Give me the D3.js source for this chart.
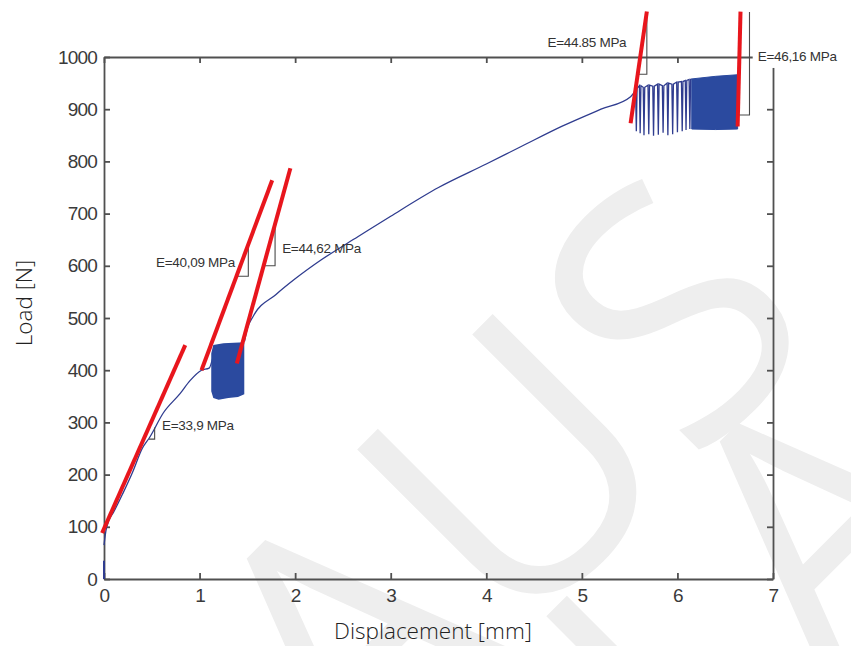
<!DOCTYPE html>
<html>
<head>
<meta charset="utf-8">
<script src="https://cdn.jsdelivr.net/npm/d3@7/dist/d3.min.js"></script>
<style>
    body { margin: 0; background: #fff; }
    .tick text { font-family: "Liberation Sans", Arial, sans-serif; font-size: 19px; fill: #3a3a3a; letter-spacing: -0.8px; }
    .axis path, .axis line { stroke: #505050; stroke-width: 1.8; }
    .ann { font-family: "Liberation Sans", Arial, sans-serif; font-size: 13.5px; fill: #333; letter-spacing: -0.3px; }
    .title { font-family: "Open Sans", "Noto Sans", sans-serif; font-size: 22.5px; font-weight: 300; fill: #222; }
</style>
</head>
<body>
<div id="chart"></div>
<script>
// 画布尺寸
const width = 851;
const height = 646;

// 数据
const xTicks = [0, 1, 2, 3, 4, 5, 6, 7];
const yTicks = [0, 100, 200, 300, 400, 500, 600, 700, 800, 900, 1000];

// 起始的竖线
const startSegment = [[0, 0], [0, 35]];

// 第一段加载曲线
const curveA = [[0, 65], [0.02, 92], [0.05, 112], [0.1, 128], [0.2, 165], [0.3, 205], [0.4, 250],
    [0.48, 272], [0.62, 318], [0.8, 356], [0.9, 380], [1.02, 400], [1.1, 404], [1.14, 425]];

// 第一组循环（包络）
const block1Upper = [[1.13, 432], [1.15, 447], [1.25, 450], [1.46, 452]];
const block1Lower = [[1.13, 360], [1.15, 348], [1.2, 345], [1.3, 348], [1.4, 350], [1.46, 355]];

// 第二段加载曲线
const curveB = [[1.47, 455], [1.5, 480], [1.56, 503], [1.8, 545], [2.0, 575], [2.27, 611], [2.66, 656],
    [3.0, 695], [3.5, 750], [4.0, 795], [4.36, 828], [4.8, 868], [5.2, 900], [5.51, 924], [5.56, 935]];

// 第二组循环：单独的尖峰
const spikeX   = [5.57, 5.61, 5.65, 5.70, 5.75, 5.80, 5.85, 5.90, 5.95, 6.00, 6.05, 6.09, 6.13];
const spikeTop = [940, 945, 942, 946, 944, 948, 945, 950, 948, 952, 953, 955, 957];
const spikeMin = [858, 854, 850, 852, 849, 851, 855, 850, 852, 856, 858, 860, 862];

// 第二组循环：密集部分
const block2Upper = [[6.15, 958], [6.4, 963], [6.63, 966]];
const block2Lower = [[6.15, 862], [6.4, 861], [6.63, 862]];

// 红色切线
const redLines = [
    [[-0.02, 88], [0.85, 448]],
    [[1.02, 400], [1.76, 764]],
    [[1.39, 413], [1.95, 787]],
    [[5.51, 873], [5.68, 1087]],
    [[6.63, 867], [6.66, 1087]]
];

// 斜率三角
const brackets = [
    [[0.47, 268], [0.53, 268], [0.53, 290]],
    [[1.39, 580], [1.51, 580], [1.51, 636]],
    [[1.68, 600], [1.79, 600], [1.79, 674]],
    [[5.59, 967], [5.68, 967], [5.68, 1086]],
    [[6.64, 889], [6.754, 889], [6.754, 1086]]
];

// 标注
const labels = [
    {text: "E=33,9 MPa", x: 0.607, y: 295, anchor: "start"},
    {text: "E=40,09 MPa", x: 1.37, y: 607, anchor: "end"},
    {text: "E=44,62 MPa", x: 1.864, y: 634, anchor: "start"},
    {text: "E=44.85 MPa", x: 4.64, y: 1029, anchor: "start"},
    {text: "E=46,16 MPa", x: 6.84, y: 1002, anchor: "start", box: true}
];

var svg = d3.select("#chart").append("svg")
    .attr("width", width).attr("height", height);

// 水印
var wm = svg.append("g").attr("fill", "#eeeeee")
    .style("font-family", "'Open Sans', sans-serif").style("font-size", "350px");
wm.append("text").attr("transform", "translate(355,805) rotate(-45)").text("AUS");
wm.append("text").attr("transform", "translate(261,1255) rotate(-45)").text("VERLAG");

var x = d3.scaleLinear().domain([0, 7]).range([104, 773]);
var y = d3.scaleLinear().domain([0, 1000]).range([579, 57]);

// 坐标轴（MATLAB 风格，刻度朝内）
svg.append("g").attr("class", "axis")
    .attr("transform", "translate(0," + y(0) + ")")
    .call(d3.axisBottom(x).tickValues(xTicks).tickFormat(d3.format("d"))
        .tickSizeInner(-6).tickSizeOuter(0).tickPadding(10));
svg.append("g").attr("class", "axis")
    .attr("transform", "translate(" + x(0) + ",0)")
    .call(d3.axisLeft(y).tickValues(yTicks).tickFormat(d3.format("d"))
        .tickSizeInner(-6).tickSizeOuter(0).tickPadding(7));
svg.append("g").attr("class", "axis")
    .attr("transform", "translate(0," + y(1000) + ")")
    .call(d3.axisTop(x).tickValues(xTicks).tickSizeInner(-6).tickSizeOuter(0).tickFormat(""));
svg.append("g").attr("class", "axis")
    .attr("transform", "translate(" + x(7) + ",0)")
    .call(d3.axisRight(y).tickValues(yTicks).tickSizeInner(-6).tickSizeOuter(0).tickFormat(""));

var line = d3.line().x(d => x(d[0])).y(d => y(d[1]));
var smooth = d3.line().x(d => x(d[0])).y(d => y(d[1])).curve(d3.curveMonotoneX);

var blue = "#2f3c8f";
var blueFill = "#2b4a9f";

// 实验曲线
var g_data = svg.append("g").attr("id", "data");

g_data.append("path").attr("d", line(startSegment))
    .attr("fill", "none").attr("stroke", blue).attr("stroke-width", 2);

g_data.append("path").attr("d", smooth(curveA))
    .attr("fill", "none").attr("stroke", blue).attr("stroke-width", 1.3);

g_data.append("path").attr("d", line(block1Upper.concat(block1Lower.slice().reverse())) + "Z")
    .attr("fill", blueFill).attr("stroke", blueFill).attr("stroke-width", 1.5);

g_data.append("path").attr("d", smooth(curveB))
    .attr("fill", "none").attr("stroke", blue).attr("stroke-width", 1.3);

// 尖峰
var spikePts = [curveB[curveB.length - 1]];
spikeX.forEach(function (sx, i) {
    spikePts.push([sx - 0.008, spikeTop[i]]);
    spikePts.push([sx, spikeMin[i]]);
    spikePts.push([sx + 0.008, spikeTop[i]]);
});
spikePts.push(block2Upper[0]);
g_data.append("path").attr("d", line(spikePts))
    .attr("fill", "none").attr("stroke", blue).attr("stroke-width", 1.3);

g_data.append("path").attr("d", line(block2Upper.concat(block2Lower.slice().reverse())) + "Z")
    .attr("fill", blueFill).attr("stroke", blueFill).attr("stroke-width", 1);

// 斜率三角
svg.append("g").selectAll(".bracket")
    .data(brackets)
    .enter()
    .append("path")
    .attr("class", "bracket")
    .attr("d", d => line(d))
    .attr("fill", "none").attr("stroke", "#4a4a4a").attr("stroke-width", 1.1);

// 红色切线
svg.append("g").selectAll(".tangent")
    .data(redLines)
    .enter()
    .append("path")
    .attr("class", "tangent")
    .attr("d", d => line(d))
    .attr("stroke", "#e8161d").attr("stroke-width", 4).attr("stroke-linecap", "butt");

// 标注文字
var g_labels = svg.append("g");
labels.forEach(function (d) {
    if (d.box) {
        g_labels.append("rect")
            .attr("x", x(d.x) - 5).attr("y", y(d.y) - 12)
            .attr("width", width - x(d.x) + 5).attr("height", 24)
            .attr("fill", "#fff");
    }
    g_labels.append("text")
        .attr("class", "ann")
        .attr("x", x(d.x)).attr("y", y(d.y))
        .attr("dy", "0.35em")
        .attr("text-anchor", d.anchor)
        .text(d.text);
});

// 轴标题
svg.append("text").attr("class", "title")
    .attr("x", 433).attr("y", 639)
    .attr("text-anchor", "middle")
    .text("Displacement [mm]");
svg.append("text").attr("class", "title")
    .attr("transform", "translate(32,303) rotate(-90)")
    .attr("text-anchor", "middle")
    .text("Load [N]");
</script>
</body>
</html>
